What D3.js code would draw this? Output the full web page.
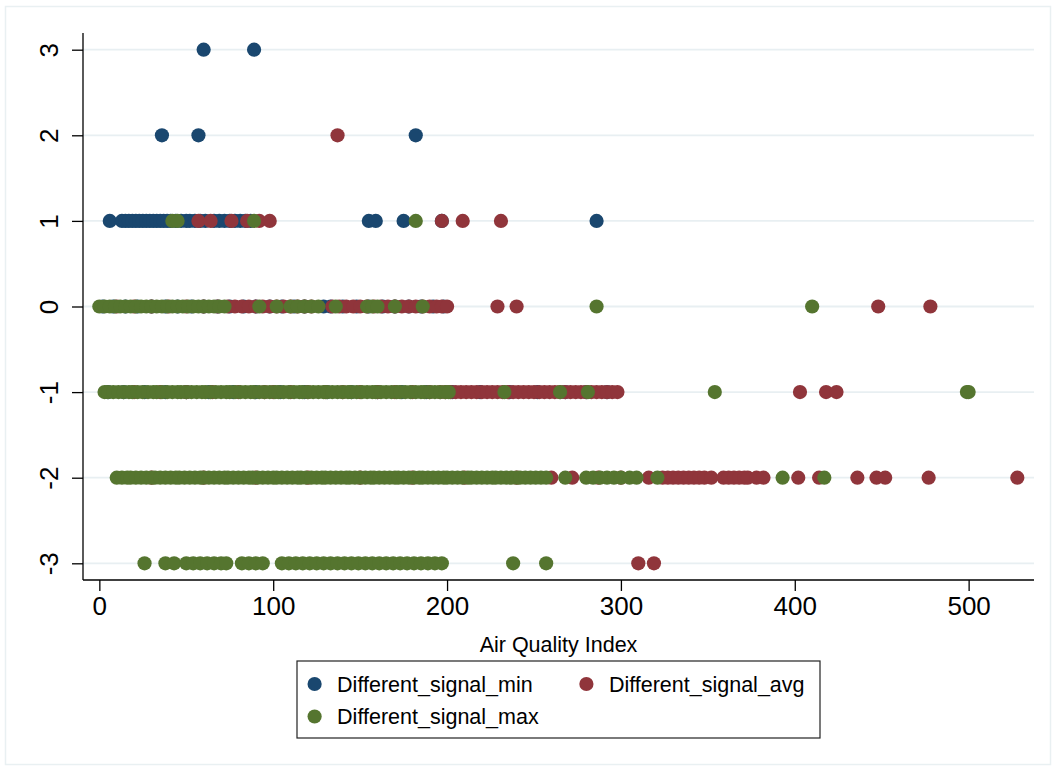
<!DOCTYPE html>
<html>
<head>
<meta charset="utf-8">
<script src="https://cdn.jsdelivr.net/npm/d3@7"></script>
<style>
  html, body { margin: 0; padding: 0; background: #fff; }
  svg { display: block; font-family: "Liberation Sans", Arial, Helvetica, sans-serif; }
</style>
</head>
<body>
<svg id="chart" width="1057" height="771"></svg>
<script>
// Signal levels (rows of the scatter), top to bottom
const signalLevels = [3, 2, 1, 0, -1, -2, -3];

// AQI readings per signal level, one array per level in the order of signalLevels
const minAqi = [
  [60, 89],
  [36, 57, 182],
  [6, 13, 15, 17, 19, 21, 23, 25, 27, 29, 31, 33, 35, 37, 39, 41, 44, 47, 50, 52, 55, 58, 61, 66, 69, 72, 75, 78, 81, 84, 87,
   155, 159, 175, 197, 286],
  [2, 8, 15, 22, 30, 38, 45, 53, 60, 68, 75, 83, 90, 98, 105, 112, 118, 129, 133, 140, 148, 155, 163, 170, 178, 185, 192, 198],
  [5, 14, 26, 38, 50, 63, 77, 90, 104, 118, 131, 145, 160, 174, 188, 203, 219, 236, 252, 268, 280, 292],
  [],
  []
];

const avgAqi = [
  [],
  [137],
  [57, 64, 76, 85, 92, 98, 197, 209, 231],
  [10, 20, 30, 40, 50, 60, 68, 74, 78, 82, 86, 90, 94, 98, 102, 106, 110, 114, 118, 122, 134, 138, 142, 146, 150, 154,
   158, 162, 166, 170, 174, 178, 182, 186, 190, 194, 197, 200, 229, 240, 448, 478],
  [20, 35, 50, 65, 80, 95, 100, 110, 120, 130, 140, 150, 160, 170, 180, 190, 196, 199, 202, 205, 208, 211, 214, 217, 220,
   223, 226, 229, 232, 235, 238, 241, 244, 247, 250, 253, 256, 259, 262, 265, 268, 271, 274, 277, 280, 283, 286, 289,
   292, 295, 298, 403, 418, 424],
  [30, 60, 90, 120, 150, 180, 210, 240, 260, 272, 287, 300, 316, 324, 327, 330, 333, 336, 339, 342, 345, 348, 352, 359,
   362, 365, 368, 371, 373, 378, 382, 402, 414, 436, 447, 452, 477, 528],
  [310, 319]
];

const maxAqi = [
  [],
  [],
  [42, 45, 89, 182],
  [0, 3, 6, 9, 12, 15, 18, 21, 24, 27, 30, 33, 36, 39, 42, 45, 48, 51, 54, 57, 60, 63, 66, 69, 72,
   92, 102, 110, 114, 118, 122, 126, 136, 154, 157, 160, 170, 186, 286, 410],
  [3, 5, 8, 11, 14, 17, 19, 22, 25, 28, 31, 33, 36, 39, 42, 45, 47, 50, 53, 56, 59, 61, 64, 67, 70, 73, 75, 78, 81, 84,
   87, 89, 92, 95, 98, 101, 103, 106, 109, 112, 115, 117, 120, 123, 126, 129, 131, 134, 137, 140, 143, 145, 148, 151,
   154, 157, 159, 162, 165, 168, 171, 173, 176, 179, 182, 185, 187, 190, 193, 196, 199, 201, 233, 265, 281, 354, 499, 500],
  [10, 13, 16, 18, 21, 24, 27, 30, 32, 35, 38, 41, 44, 46, 49, 52, 55, 58, 60, 63, 66, 69, 72, 74, 77, 80, 83, 86, 88,
   91, 94, 97, 100, 102, 105, 108, 111, 114, 116, 119, 122, 125, 128, 130, 133, 136, 139, 142, 144, 147, 150, 153, 156,
   158, 161, 164, 167, 170, 172, 175, 178, 181, 184, 186, 189, 192, 195, 198, 200, 203, 206, 209, 212, 214, 217, 220,
   223, 226, 228, 231, 234, 237, 240, 242, 245, 248, 251, 254, 257, 268, 280, 284, 288, 292, 296, 300, 305, 309, 321,
   393, 417],
  [26, 38, 43, 50, 54, 58, 62, 66, 70, 73, 82, 86, 90, 94, 105, 109, 113, 117, 121, 125, 129, 133, 137, 141, 145, 149,
   153, 157, 161, 165, 169, 173, 177, 181, 185, 189, 193, 197, 238, 257]
];

const seriesNames = ["Different_signal_min", "Different_signal_avg", "Different_signal_max"];
const seriesColors = ["#1a476f", "#90353b", "#55752f"];
const xTicks = [0, 100, 200, 300, 400, 500];
const yTicks = [3, 2, 1, 0, -1, -2, -3];
const xTitle = "Air Quality Index";

const markerR = 7.1;
const svg = d3.select("#chart");

// Outer graph region frame
svg.append("rect")
  .attr("x", 5.5).attr("y", 6.5).attr("width", 1045).attr("height", 758)
  .attr("fill", "#fff").attr("stroke", "#e9f0f2").attr("stroke-width", 1.5);

const plot = { left: 83, right: 1034, top: 33, bottom: 580 };

const x = d3.scaleLinear().domain([-9.4, 537.6]).range([plot.left, plot.right]);
const y = d3.scaleLinear().domain([-3.195, 3.195]).range([plot.bottom, plot.top]);

// Horizontal grid lines
svg.append("g")
  .selectAll("line")
  .data(yTicks)
  .join("line")
  .attr("x1", plot.left).attr("x2", plot.right)
  .attr("y1", d => y(d)).attr("y2", d => y(d))
  .attr("stroke", "#e8eff2").attr("stroke-width", 1.8);

// Points: min first, then avg, then max on top
const seriesData = [minAqi, avgAqi, maxAqi].map(rows =>
  signalLevels.flatMap((lv, i) => rows[i].map(a => ({ aqi: a, signal: lv })))
);

seriesData.forEach((pts, si) => {
  svg.append("g")
    .selectAll("circle")
    .data(pts)
    .join("circle")
    .attr("cx", d => x(d.aqi))
    .attr("cy", d => y(d.signal))
    .attr("r", markerR)
    .attr("fill", seriesColors[si]);
});

const plainNumber = d => String(d);

// Y axis
const yAxis = svg.append("g")
  .attr("transform", `translate(${plot.left},0)`)
  .call(d3.axisLeft(y).tickValues(yTicks).tickSize(11).tickPadding(0).tickFormat(plainNumber));
yAxis.select(".domain").attr("d", `M0,${plot.top}V${plot.bottom}`).attr("stroke", "#000").attr("stroke-width", 1.3);
yAxis.selectAll(".tick line").attr("stroke", "#000").attr("stroke-width", 1.3);
yAxis.selectAll(".tick text")
  .attr("x", 0).attr("y", 0)
  .attr("transform", "translate(-25,0) rotate(-90)")
  .attr("text-anchor", "middle")
  .attr("dy", 0)
  .attr("fill", "#000")
  .style("font-size", "26px")
  .style("font-family", "'Liberation Sans', Arial, sans-serif");

// X axis
const xAxis = svg.append("g")
  .attr("transform", `translate(0,${plot.bottom})`)
  .call(d3.axisBottom(x).tickValues(xTicks).tickSize(11).tickPadding(0).tickFormat(plainNumber));
xAxis.select(".domain").attr("d", `M${plot.left},0H${plot.right}`).attr("stroke", "#000").attr("stroke-width", 1.3);
xAxis.selectAll(".tick line").attr("stroke", "#000").attr("stroke-width", 1.3);
xAxis.selectAll(".tick text")
  .attr("y", 35).attr("dy", 0)
  .attr("fill", "#000")
  .style("font-size", "26px")
  .style("font-family", "'Liberation Sans', Arial, sans-serif");

// Axis title
svg.append("text")
  .attr("x", (plot.left + plot.right) / 2)
  .attr("y", 652)
  .attr("text-anchor", "middle")
  .style("font-size", "21.5px")
  .text(xTitle);

// Legend
const legend = svg.append("g");
legend.append("rect")
  .attr("x", 297).attr("y", 661).attr("width", 523).attr("height", 77)
  .attr("fill", "#fff").attr("stroke", "#222").attr("stroke-width", 1.2);

const legendPos = [[314.6, 684], [586.4, 684], [314.6, 716.5]];
seriesNames.forEach((name, i) => {
  const [lx, ly] = legendPos[i];
  legend.append("circle")
    .attr("cx", lx).attr("cy", ly).attr("r", markerR)
    .attr("fill", seriesColors[i]);
  legend.append("text")
    .attr("x", lx + 22.5).attr("y", ly + 7.7)
    .style("font-size", "21.5px")
    .text(name);
});
</script>
</body>
</html>
